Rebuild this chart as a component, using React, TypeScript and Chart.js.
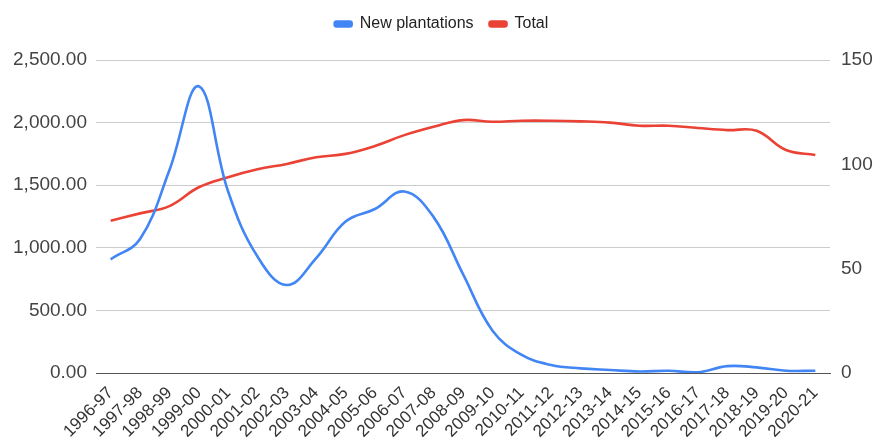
import React, { useEffect, useRef } from "react";
import { Chart, registerables } from "chart.js";

Chart.register(...registerables);

const categories = [
  "1996-97", "1997-98", "1998-99", "1999-00", "2000-01", "2001-02", "2002-03",
  "2003-04", "2004-05", "2005-06", "2006-07", "2007-08", "2008-09", "2009-10",
  "2010-11", "2011-12", "2012-13", "2013-14", "2014-15", "2015-16", "2016-17",
  "2017-18", "2018-19", "2019-20", "2020-21",
];

const newPlantations = [
  908, 1070, 1620, 2290, 1450, 930, 703, 918, 1210, 1310, 1450, 1245, 790,
  340, 144, 64, 37, 24, 12, 18, 6, 55, 45, 18, 18,
];

const total = [
  73.0, 76.5, 80.0, 89.0, 93.8, 97.6, 100.2, 103.4, 105.0, 108.8, 114.0,
  118.0, 121.2, 120.4, 120.9, 120.9, 120.6, 120.0, 118.5, 118.5, 117.4,
  116.4, 116.1, 106.9, 104.5,
];

const leftTicks = [0, 500, 1000, 1500, 2000, 2500];
const rightTicks = [0, 50, 100, 150];

const FONT = "'Liberation Sans', Arial, sans-serif";

const legendGap = {
  id: "legendGap",
  afterInit(chart: any) {
    const lg = chart.legend;
    if (!lg) return;
    const orig = lg.fit.bind(lg);
    lg.fit = function () {
      orig();
      this.height += 18;
    };
  },
};

export default function App() {
  const ref = useRef<HTMLCanvasElement | null>(null);

  useEffect(() => {
    if (!ref.current) return;
    const chart = new Chart(ref.current, {
      type: "line",
      data: {
        labels: categories,
        datasets: [
          {
            label: "New plantations",
            data: newPlantations,
            borderColor: "#4285F4",
            backgroundColor: "#4285F4",
            borderWidth: 2.6,
            pointRadius: 0,
            tension: 0.4,
            yAxisID: "y",
          },
          {
            label: "Total",
            data: total,
            borderColor: "#EA4335",
            backgroundColor: "#EA4335",
            borderWidth: 2.6,
            pointRadius: 0,
            tension: 0.4,
            yAxisID: "y1",
          },
        ],
      },
      plugins: [legendGap],
      options: {
        animation: false,
        responsive: false,
        maintainAspectRatio: false,
        layout: { padding: { top: 0, left: 0, right: 0, bottom: 0 } },
        plugins: {
          tooltip: { enabled: false },
          legend: {
            position: "top",
            align: "center",
            labels: {
              color: "#222",
              font: { family: FONT, size: 16 },
              boxWidth: 17,
              boxHeight: 5,
              padding: 16,
              useBorderRadius: true,
              borderRadius: 2,
            },
          },
        },
        scales: {
          x: {
            offset: true,
            grid: { display: false, drawTicks: false },
            border: { display: true, color: "#555", width: 1 },
            ticks: {
              color: "#333",
              font: { family: FONT, size: 17 },
              minRotation: 45,
              maxRotation: 45,
              autoSkip: false,
              padding: 10,
            },
            afterFit: (s: any) => {
              s.height = 68;
            },
          },
          y: {
            position: "left",
            min: 0,
            max: 2500,
            afterBuildTicks: (s: any) => {
              s.ticks = leftTicks.map((v) => ({ value: v }));
            },
            grid: {
              drawTicks: false,
              color: (c: any) => (c.tick && c.tick.value === 0 ? "#555" : "#ccc"),
              lineWidth: 1,
            },
            border: { display: false },
            ticks: {
              color: "#444",
              font: { family: FONT, size: 19 },
              padding: 9,
              callback: (v: any) =>
                Number(v).toLocaleString("en-US", {
                  minimumFractionDigits: 2,
                  maximumFractionDigits: 2,
                }),
            },
            afterFit: (s: any) => {
              s.width = 96;
            },
          },
          y1: {
            position: "right",
            min: 0,
            max: 150,
            afterBuildTicks: (s: any) => {
              s.ticks = rightTicks.map((v) => ({ value: v }));
            },
            grid: { display: false, drawTicks: false },
            border: { display: false },
            ticks: {
              color: "#444",
              font: { family: FONT, size: 19 },
              padding: 11,
            },
            afterFit: (s: any) => {
              s.width = 53;
            },
          },
        },
      },
    });
    return () => chart.destroy();
  }, []);

  return (
    <div style={{ position: "fixed", left: 0, top: 0, width: 883, height: 441, background: "#fff" }}>
      <canvas ref={ref} width={883} height={441} style={{ width: 883, height: 441 }} />
    </div>
  );
}
